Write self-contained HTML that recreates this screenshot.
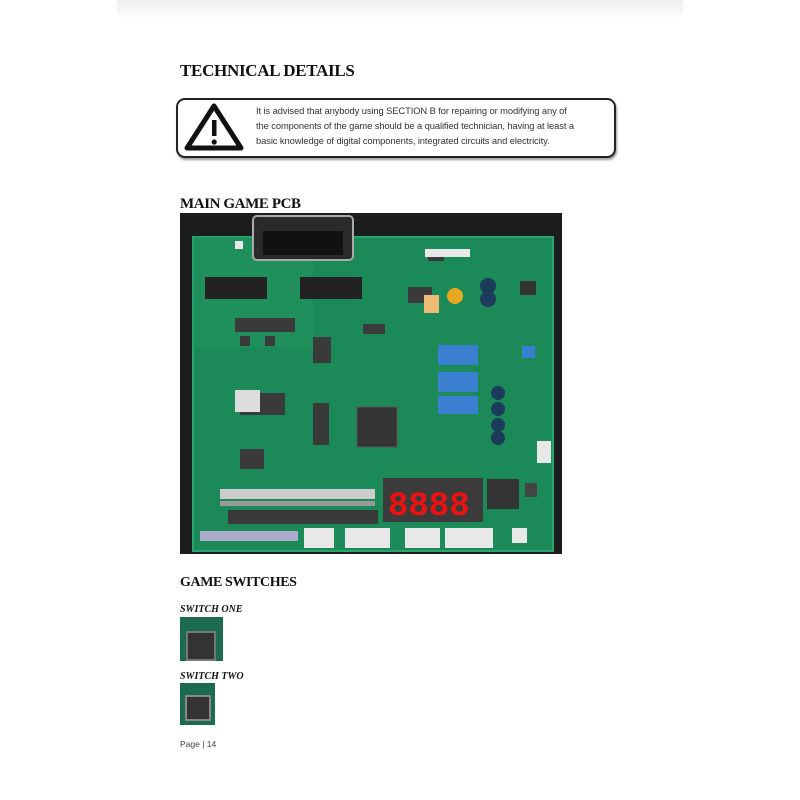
<!DOCTYPE html>
<html><head><meta charset="utf-8"><style>
html,body{margin:0;padding:0;background:#fff;}
body{width:800px;height:800px;position:relative;overflow:hidden;font-family:"Liberation Serif",serif;}
.top{position:absolute;left:117px;top:0;width:566px;height:18px;background:linear-gradient(#ececec,#fff);}
h1,h2,h3{margin:0;position:absolute;font-weight:bold;color:#111;}
.t{position:absolute;font-family:"Liberation Sans",sans-serif;}
</style></head><body>
<div class="top"></div>
<h1 style="left:180px;top:61px;font-size:17px;letter-spacing:-0.3px;">TECHNICAL DETAILS</h1>
<div style="position:absolute;left:176px;top:98px;width:436px;height:56px;border:2px solid #222;border-radius:9px;box-shadow:1px 2px 2px #999;"></div>
<svg style="position:absolute;left:183px;top:102px" width="62" height="50"><polygon points="31,4 58,46 4,46" fill="none" stroke="#111" stroke-width="5" stroke-linejoin="round"/><rect x="29" y="18" width="4.5" height="16" fill="#111"/><circle cx="31.2" cy="40" r="2.6" fill="#111"/></svg>
<div class="t" style="left:256px;top:103px;font-size:9.4px;line-height:15px;color:#333;width:360px;letter-spacing:-0.1px;">It is advised that anybody using SECTION B for repairing or modifying any of<br>the components of the game should be a qualified technician, having at least a<br>basic knowledge of digital components, integrated circuits and electricity.</div>
<h2 style="left:180px;top:196px;font-size:15px;letter-spacing:-0.4px;">MAIN GAME PCB</h2>
<svg style="position:absolute;left:180px;top:213px" width="382" height="341">
<rect width="382" height="341" fill="#1a1d1c"/>
<rect x="13" y="24" width="360" height="314" fill="#1c8a58"/>
<rect x="13" y="24" width="360" height="314" fill="none" stroke="#2aa56e" stroke-width="2"/>
<rect x="13" y="24" width="120" height="110" fill="#22955f" opacity="0.6"/>
<rect x="73" y="3" width="100" height="44" rx="4" fill="#2a2a2a" stroke="#aaa" stroke-width="2"/>
<rect x="83" y="18" width="80" height="24" fill="#111"/>
<rect x="25" y="64" width="62" height="22" fill="#222"/><rect x="120" y="64" width="62" height="22" fill="#222"/>
<g fill="#3a3a3a"><rect x="55" y="105" width="60" height="14"/><rect x="60" y="123" width="10" height="10"/><rect x="85" y="123" width="10" height="10"/><rect x="133" y="124" width="18" height="26"/><rect x="183" y="111" width="22" height="10"/><rect x="60" y="180" width="45" height="22"/><rect x="48" y="297" width="150" height="14"/><rect x="133" y="190" width="16" height="42"/><rect x="60" y="236" width="24" height="20"/><rect x="248" y="36" width="16" height="12"/><rect x="228" y="74" width="24" height="16"/></g>
<rect x="55" y="177" width="25" height="22" fill="#ddd"/>
<rect x="177" y="194" width="40" height="40" fill="#333" stroke="#555"/>
<rect x="244" y="82" width="15" height="18" fill="#eb7"/>
<circle cx="275" cy="83" r="8" fill="#e8a820"/>
<g fill="#3a7fd0"><rect x="258" y="132" width="40" height="20"/><rect x="258" y="159" width="40" height="20"/><rect x="258" y="183" width="40" height="18"/><rect x="342" y="133" width="13" height="12"/></g>
<g fill="#1d3b5a"><circle cx="308" cy="73" r="8"/><circle cx="308" cy="86" r="8"/><circle cx="318" cy="180" r="7"/><circle cx="318" cy="196" r="7"/><circle cx="318" cy="212" r="7"/><circle cx="318" cy="225" r="7"/></g>
<rect x="340" y="68" width="16" height="14" fill="#333"/>
<rect x="203" y="265" width="100" height="44" fill="#3b3b3b"/>
<g fill="#e11" font-family="Liberation Mono" font-size="34" font-weight="bold"><text x="208" y="302">8888</text></g>
<rect x="307" y="266" width="32" height="30" fill="#333"/>
<rect x="345" y="270" width="12" height="14" fill="#444"/>
<g fill="#e8e8e8"><rect x="124" y="315" width="30" height="20"/><rect x="165" y="315" width="45" height="20"/><rect x="225" y="315" width="35" height="20"/><rect x="265" y="315" width="48" height="20"/><rect x="332" y="315" width="15" height="15"/><rect x="20" y="318" width="98" height="10" fill="#aac"/><rect x="55" y="28" width="8" height="8"/><rect x="245" y="36" width="45" height="8"/><rect x="357" y="228" width="14" height="22"/></g>
<g fill="#ccc"><rect x="40" y="276" width="155" height="10"/></g>
<rect x="40" y="288" width="155" height="5" fill="#999"/>
</svg>
<h2 style="left:180px;top:575px;font-size:14px;letter-spacing:-0.4px;">GAME SWITCHES</h2>
<h3 style="left:180px;top:604px;font-size:10px;font-style:italic;">SWITCH ONE</h3>
<div style="position:absolute;left:180px;top:617px;width:43px;height:44px;background:#1d6b4e;"><div style="position:absolute;left:6px;top:14px;width:26px;height:26px;background:#333;border:2px solid #777;"></div></div>
<h3 style="left:180px;top:671px;font-size:10px;font-style:italic;">SWITCH TWO</h3>
<div style="position:absolute;left:180px;top:683px;width:35px;height:42px;background:#1d6b4e;"><div style="position:absolute;left:5px;top:12px;width:22px;height:22px;background:#333;border:2px solid #888;"></div></div>
<div class="t" style="left:180px;top:739px;font-size:8.5px;color:#444;">Page | 14</div>
</body></html>
